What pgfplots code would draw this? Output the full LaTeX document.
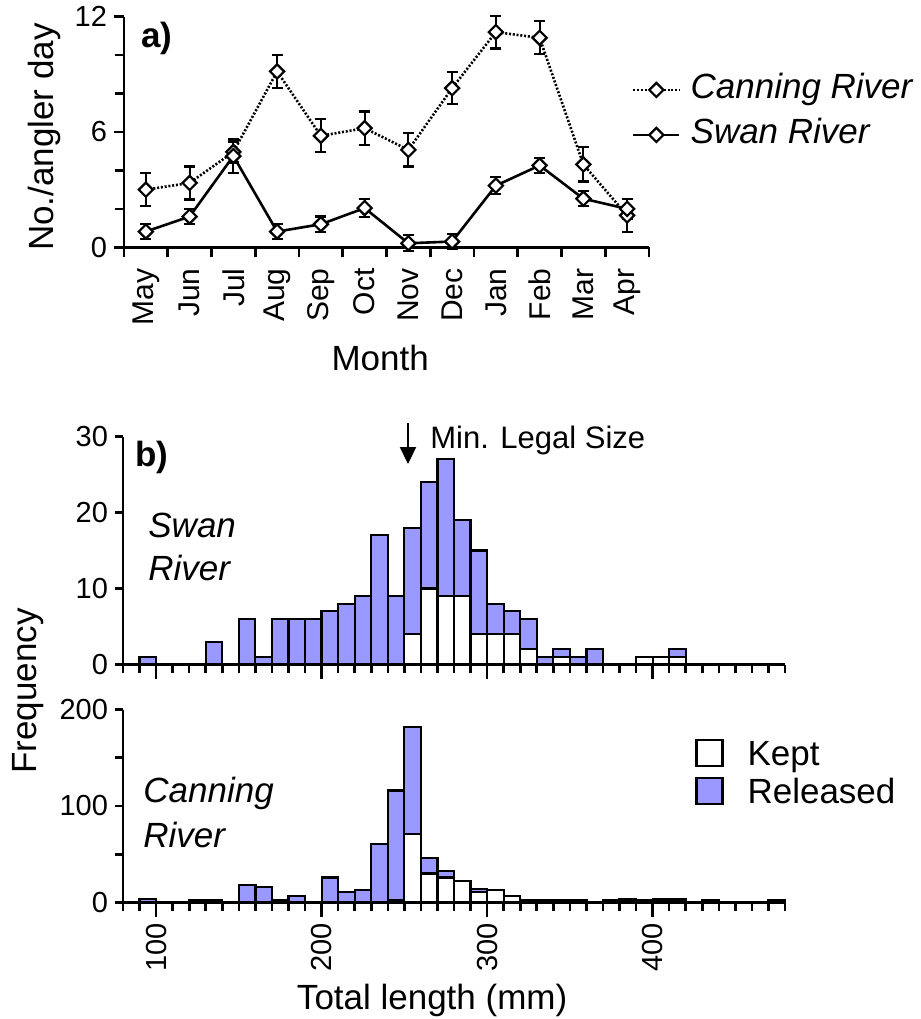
\documentclass[border=0pt]{standalone}
\usepackage{fontspec}
\setmainfont{Liberation Sans}
\usepackage{pgfplots}
\usepackage{pgfplotstable}
\pgfplotsset{compat=1.18}
\usetikzlibrary{arrows.meta}
\definecolor{released}{RGB}{153,153,255}
\newcommand\labsz{\fontsize{17.5}{21}\selectfont}
\newcommand\ticksz{\fontsize{14.5}{17}\selectfont}

% length classes: total length bin mid (mm), kept, released
\pgfplotstableread{
mid kept rel
95  0 1
135 0 3
155 0 6
165 0 1
175 0 6
185 0 6
195 0 6
205 0 7
215 0 8
225 0 9
235 0 17
245 0 9
255 4 14
265 10 14
275 9 18
285 9 10
295 4 11
305 4 4
315 4 3
325 2 4
335 0 1
345 1 1
355 0 1
365 0 2
395 1 0
405 1 0
415 1 1
}\swan

\pgfplotstableread{
mid kept rel
95  0 4
125 0 2
135 0 2
155 0 18
165 0 16
175 0 2
185 0 7
205 0 26
215 0 11
225 0 13
235 0 61
245 2 114
255 71 111
265 30 16
275 26 7
285 22 0
295 11 3
305 13 0
315 7 0
325 2 0
335 2 0
345 2 0
355 2 0
375 2 0
385 2 2
395 2 0
405 2 2
415 2 2
435 2 0
475 2 0
}\canning

\pgfplotsset{
  common/.style={
    scale only axis,
    axis lines*=left,
    axis line style={line width=1.4pt},
    tick align=outside,
    tick style={black, line width=1.3pt},
    major tick length=4.5pt, minor tick length=4.5pt,
    tick label style={font=\ticksz},
    label style={font=\labsz},
    /pgf/number format/assume math mode=true,
    clip=false,
  },
  hist/.style={
    common,
    width=331pt,
    ybar stacked, bar width=10,
    xmin=80, xmax=480, ymin=0,
    xtick={80,90,...,480}, xticklabels={},
    major tick length=4pt, minor tick length=4pt,
    extra x tick style={major tick length=7pt},
  },
  catch/.style={black, line width=1.3pt,
    mark=square*, mark options={solid, fill=white, rotate=45, mark size=2.5pt, line width=1.1pt},
    /pgfplots/error bars/y dir=both, /pgfplots/error bars/y explicit,
    /pgfplots/error bars/error bar style={solid, line width=1.1pt},
    /pgfplots/error bars/error mark options={rotate=90, mark size=2.8pt, line width=1.1pt}},
  bars/.style={draw=black, line width=1.1pt},
}

\begin{document}
\begin{tikzpicture}
\path[use as bounding box] (0,0) rectangle (460.5pt,-509.5pt);

% a) catch rate by month
\begin{axis}[common,
  at={(62pt,-123.65pt)}, anchor=south west,
  width=262.5pt, height=115.3pt,
  xmin=-0.5, xmax=11.5, ymin=0, ymax=12,
  xtick={-0.5,0.5,...,11.5}, xticklabels={},
  major tick length=5pt,
  extra x ticks={0,1,...,11},
  extra x tick labels={May,Jun,Jul,Aug,Sep,Oct,Nov,Dec,Jan,Feb,Mar,Apr},
  extra x tick style={major tick length=0pt},
  xticklabel shift=7pt,
  x tick label style={rotate=90, anchor=east, font=\fontsize{15}{17}\selectfont},
  ytick={0,6,12}, minor ytick={2,4,8,10},
  xlabel={Month},
  xlabel style={at={([yshift=-55.4pt]axis description cs:0.488,0)}, anchor=center},
  ylabel={No./angler day},
  ylabel style={at={([xshift=-40pt]axis description cs:0,0.478)}, anchor=center},
  legend style={at={(0.967,0.585)}, anchor=west, draw=none, fill=none,
    font=\labsz\itshape, inner sep=0pt, row sep=6.5pt, column sep=5pt,
    nodes={inner sep=0pt, text height=12.5pt, text depth=3.5pt}},
  legend cell align=left,
  legend image code/.code={\draw[mark repeat=2,mark phase=2,#1]
    plot coordinates {(0pt,0pt) (11.5pt,0pt) (23pt,0pt)};},
]
\addplot[catch, dash pattern=on 1pt off 0.9pt] coordinates {
  (0,3.00) +- (0,0.87)
  (1,3.35) +- (0,0.86)
  (2,4.96) +- (0,0.55)
  (3,9.15) +- (0,0.85)
  (4,5.80) +- (0,0.86)
  (5,6.20) +- (0,0.87)
  (6,5.07) +- (0,0.86)
  (7,8.28) +- (0,0.84)
  (8,11.20) +- (0,0.85)
  (9,10.90) +- (0,0.86)
  (10,4.31) +- (0,0.89)
  (11,1.66) +- (0,0.85)
};
\addplot[catch, solid] coordinates {
  (0,0.82) +- (0,0.40)
  (1,1.60) +- (0,0.40)
  (2,4.75) +- (0,0.87)
  (3,0.82) +- (0,0.40)
  (4,1.20) +- (0,0.40)
  (5,2.04) +- (0,0.47)
  (6,0.21) +- (0,0.42)
  (7,0.30) +- (0,0.40)
  (8,3.21) +- (0,0.45)
  (9,4.26) +- (0,0.40)
  (10,2.53) +- (0,0.40)
  (11,2.00) +- (0,0.50)
};
\legend{Canning River, Swan River}
\end{axis}

% b) Swan River length frequency
\begin{axis}[hist,
  at={(61.5pt,-332.25pt)}, anchor=south west, height=114pt,
  ymax=30, ytick={0,10,20,30},
  extra x ticks={100,200,300,400}, extra x tick labels={},
]
\addplot[bars, fill=white] table[x=mid, y=kept] {\swan};
\addplot[bars, fill=released] table[x=mid, y=rel] {\swan};
\end{axis}

% b) Canning River length frequency
\begin{axis}[hist,
  at={(61.5pt,-451.25pt)}, anchor=south west, height=96.5pt,
  ymax=200, ytick={0,100,200}, minor ytick={50,150},
  extra x ticks={100,200,300,400},
  x tick label style={rotate=90, anchor=east},
  xlabel={Total length (mm)},
  xlabel style={at={([yshift=-48.75pt]axis description cs:0.467,0)}, anchor=center},
  legend style={at={(0.864,0.676)}, anchor=west, draw=none, fill=none,
    font=\labsz, inner sep=0pt, row sep=5pt, column sep=12pt,
    nodes={inner sep=0pt, text height=12.5pt, text depth=0pt}},
  legend cell align=left,
  legend image code/.code={\draw[#1, line width=1.1pt] (0pt,-6.5pt) rectangle (13pt,6.5pt);},
]
\addplot[bars, fill=white] table[x=mid, y=kept] {\canning};
\addplot[bars, fill=released] table[x=mid, y=rel] {\canning};
\legend{Kept, Released}
\end{axis}

% annotations
\node[font=\labsz\bfseries, anchor=center] at (78.5pt,-19pt) {a)};
\node[font=\labsz\bfseries, anchor=center] at (76pt,-228.5pt) {b)};
\node[font=\labsz, rotate=90, anchor=center] at (14pt,-345.5pt) {Frequency};
\node[font=\labsz\itshape, anchor=base west, inner sep=0pt] at (74pt,-268.5pt) {Swan};
\node[font=\labsz\itshape, anchor=base west, inner sep=0pt] at (74pt,-290pt) {River};
\node[font=\labsz\itshape, anchor=base west, inner sep=0pt] at (71.5pt,-401pt) {Canning};
\node[font=\labsz\itshape, anchor=base west, inner sep=0pt] at (71.5pt,-423.5pt) {River};
\draw[line width=1.1pt, -{Triangle[width=8pt,length=8.5pt]}] (204pt,-211.5pt) -- (204pt,-232pt);
\node[font=\fontsize{15.5}{18}\selectfont, anchor=base west, inner sep=0pt] at (215pt,-224pt) {Min. Legal Size};
\end{tikzpicture}
\end{document}
